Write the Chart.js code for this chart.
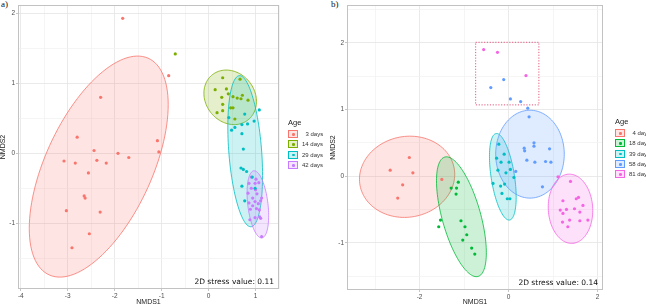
<!DOCTYPE html>
<html lang="en">
<head>
<meta charset="UTF-8">
<title>NMDS ordination by age</title>
<script src="https://cdn.jsdelivr.net/npm/chart.js"></script>
<style>
  body { margin: 0; width: 646px; height: 306px; overflow: hidden; background: #fff; position: relative;
         font-family: "Liberation Sans", Arial, sans-serif; }
  .wrap { position: absolute; top: 0; height: 306px; }
  #wrapA { left: 0; width: 330px; }
  #wrapB { left: 330px; width: 316px; }
  .tag { position: absolute; top: -1px; font-family: "Liberation Serif", serif; font-size: 9px; color: #111; }
  .legend { position: absolute; font-size: 6px; color: #333; white-space: nowrap; }
  .legend .ttl { font-size: 7.5px; color: #222; margin-bottom: 2px; }
  .legend .row { height: 10.3px; display: flex; align-items: center; }
  .legend .key { width: 10px; height: 8px; border: 1px solid; box-sizing: border-box; position: relative; margin-right: 4px; }
  .legend .key i { position: absolute; left: 3px; top: 2px; width: 2.5px; height: 2.5px; border-radius: 50%; }
</style>
</head>
<body>
<div class="tag" style="left:1px">a)</div>
<div class="tag" style="left:331px">b)</div>
<div class="wrap" id="wrapA"><canvas id="chartA" width="330" height="306"></canvas></div>
<div class="wrap" id="wrapB"><canvas id="chartB" width="316" height="306"></canvas></div>
<div class="legend" id="legA" style="left:288px; top:118px"></div>
<div class="legend" id="legB" style="left:615px; top:117px"></div>

<script>
  // ---- panel a) ----
  const labelsA = ['3 days', '14 days', '29 days', '42 days'];
  const colorsA = ['#F8766D', '#7CAE00', '#00BFC4', '#C77CFF'];
  const a3 = [[-1.83, 1.93], [-0.85, 1.11], [-2.30, 0.80], [-2.80, 0.23], [-1.09, 0.18], [-1.06, 0.02],
              [-2.44, 0.04], [-1.93, 0.00], [-1.70, -0.06], [-3.08, -0.11], [-2.84, -0.14], [-2.38, -0.10],
              [-2.18, -0.14], [-2.56, -0.28], [-2.65, -0.61], [-2.63, -0.64], [-3.03, -0.82], [-2.31, -0.84],
              [-2.54, -1.15], [-2.91, -1.35]];
  const a14 = [[-0.71, 1.42], [0.30, 1.08], [0.67, 1.06], [0.14, 0.91], [0.38, 0.92], [0.42, 0.85],
               [0.28, 0.80], [0.52, 0.81], [0.61, 0.79], [0.72, 0.83], [0.69, 0.78], [0.84, 0.76],
               [0.30, 0.70], [0.47, 0.65], [0.52, 0.65], [0.30, 0.61], [0.18, 0.58], [0.56, 0.49]];
  const a29 = [[1.08, 0.62], [0.77, 0.56], [0.43, 0.51], [0.97, 0.46], [0.56, 0.37], [0.49, 0.33],
               [0.71, 0.41], [0.83, 0.42], [0.71, 0.28], [0.74, 0.06], [0.69, -0.21], [0.74, -0.23],
               [0.81, -0.26], [0.71, -0.47], [0.77, -0.68], [0.93, -0.34], [0.99, -0.50]];
  const a42 = [[0.91, -0.34], [1.01, -0.37], [0.86, -0.43], [0.99, -0.43], [1.07, -0.42], [0.91, -0.50],
               [1.00, -0.52], [0.84, -0.57], [1.03, -0.58], [1.13, -0.64], [0.94, -0.64], [0.86, -0.71],
               [0.99, -0.69], [1.06, -0.72], [1.11, -0.68], [0.94, -0.75], [1.02, -0.79], [1.08, -0.81],
               [0.89, -0.80], [1.09, -0.91], [1.11, -0.93], [0.88, -0.95], [0.99, -0.92], [1.13, -1.19]];
  // ellipse: centre x, centre y, half-width, half-height, correlation
  const ellA = [[-2.34, -0.19, 1.48, 1.58, 0.56], [0.46, 0.80, 0.56, 0.39, -0.15],
                [0.78, 0.03, 0.37, 1.08, -0.32], [1.05, -0.73, 0.23, 0.48, -0.34]];
  const xTicksA = [-4, -3.5, -3, -2.5, -2, -1.5, -1, -0.5, 0, 0.5, 1, 1.5];
  const xMajorA = [-4, -3, -2, -1, 0, 1];
  const yTicksA = [-1.5, -1, -0.5, 0, 0.5, 1, 1.5, 2];
  const yMajorA = [-1, 0, 1, 2];
  const rangeA = { xmin: -4.06, xmax: 1.5, ymin: -1.94, ymax: 2.12 };

  // ---- panel b) ----
  const labelsB = ['4 days', '18 days', '39 days', '58 days', '81 days'];
  const colorsB = ['#F8766D', '#00BA38', '#00BFC4', '#619CFF', '#F564E3'];
  const b4 = [[-2.23, 0.28], [-2.66, 0.09], [-2.15, 0.05], [-2.38, -0.13], [-2.49, -0.33], [-1.50, -0.05]];
  const b18 = [[-1.13, -0.09], [-1.29, -0.18], [-1.17, -0.18], [-1.18, -0.27], [-1.53, -0.66], [-1.57, -0.76],
               [-1.07, -0.67], [-0.98, -0.76], [-0.94, -0.88], [-1.03, -0.96], [-0.83, -1.08], [-0.76, -1.17]];
  const b39 = [[-0.22, 0.48], [-0.10, 0.33], [-0.27, 0.27], [-0.17, 0.21], [0.01, 0.21], [-0.24, 0.09],
               [-0.06, 0.05], [0.04, 0.10], [0.12, -0.02], [-0.35, -0.11], [-0.18, -0.15], [-0.09, -0.12],
               [-0.15, -0.26], [-0.03, -0.34], [0.03, -0.34]];
  const b58 = [[-0.11, 1.45], [-0.40, 1.33], [0.04, 1.16], [0.27, 1.12], [0.43, 1.02], [0.46, 0.89],
               [0.35, 0.42], [0.57, 0.50], [0.57, 0.45], [0.36, 0.38], [0.92, 0.41], [0.41, 0.24],
               [0.59, 0.21], [0.83, 0.22], [0.95, 0.21], [0.16, 0.07], [0.76, -0.16]];
  const b81 = [[-0.56, 1.90], [-0.25, 1.86], [0.39, 1.51], [1.39, -0.08], [1.22, -0.37], [1.52, -0.34],
               [1.57, -0.32], [1.67, -0.44], [1.16, -0.51], [1.30, -0.50], [1.48, -0.49], [1.22, -0.56],
               [1.60, -0.54], [1.21, -0.69], [1.37, -0.66], [1.33, -0.76], [1.60, -0.67], [1.78, -0.66],
               [1.11, -0.01]];
  const ellB = [[-2.28, -0.01, 1.07, 0.61, 0.06], [-1.06, -0.61, 0.56, 0.90, -0.6],
                [-0.13, -0.01, 0.30, 0.65, -0.47], [0.48, 0.33, 0.77, 0.66, 0.0],
                [1.39, -0.49, 0.50, 0.52, -0.05]];
  const boxB = [-0.74, 1.07, 0.68, 2.01]; // outlier box: x1, y1, x2, y2
  const xTicksB = [-3, -2, -1, 0, 1, 2];
  const xMajorB = [-2, 0, 2];
  const yTicksB = [-1.5, -1, -0.5, 0, 0.5, 1, 1.5, 2, 2.5];
  const yMajorB = [-1, 0, 1, 2];
  const rangeB = { xmin: -3.63, xmax: 2.12, ymin: -1.71, ymax: 2.57 };

  function rgba(hex, a) {
    const n = parseInt(hex.slice(1), 16);
    return `rgba(${n >> 16},${(n >> 8) & 255},${n & 255},${a})`;
  }

  const extras = {
    id: 'extras',
    beforeDatasetsDraw(chart, args, opts) {
      const { ctx, chartArea: a, scales: { x, y } } = chart;
      ctx.save();
      ctx.beginPath();
      ctx.rect(a.left, a.top, a.width, a.height);
      ctx.clip();
      opts.ellipses.forEach((e, k) => {
        const s = Math.sqrt(1 - e[4] * e[4]);
        ctx.beginPath();
        for (let i = 0; i <= 120; i++) {
          const t = i / 120 * Math.PI * 2;
          const px = x.getPixelForValue(e[0] + e[2] * Math.cos(t));
          const py = y.getPixelForValue(e[1] + e[3] * (e[4] * Math.cos(t) + s * Math.sin(t)));
          if (i) ctx.lineTo(px, py); else ctx.moveTo(px, py);
        }
        ctx.closePath();
        ctx.fillStyle = rgba(opts.colors[k], 0.2);
        ctx.fill();
        ctx.strokeStyle = opts.colors[k];
        ctx.lineWidth = 0.8;
        ctx.stroke();
      });
      if (opts.box) {
        const b = opts.box;
        const x1 = x.getPixelForValue(b[0]), x2 = x.getPixelForValue(b[2]);
        const y1 = y.getPixelForValue(b[1]), y2 = y.getPixelForValue(b[3]);
        ctx.setLineDash([1.2, 1.6]);
        ctx.strokeStyle = '#e4567c';
        ctx.lineWidth = 1;
        ctx.strokeRect(x1, y2, x2 - x1, y1 - y2);
      }
      ctx.restore();
    },
    afterDraw(chart, args, opts) {
      const { ctx, chartArea: a } = chart;
      ctx.save();
      ctx.strokeStyle = '#c2c2c2';
      ctx.lineWidth = 1;
      ctx.strokeRect(a.left + 0.5, a.top + 0.5, a.width - 1, a.height - 1);
      ctx.font = '7.5px "DejaVu Sans"';
      ctx.fillStyle = '#111';
      ctx.textAlign = 'right';
      ctx.textBaseline = 'alphabetic';
      ctx.fillText(opts.stress, a.right - 5, a.bottom - 5);
      ctx.restore();
    }
  };

  function makePanel(id, groups, labels, colors, ellipses, xTicks, xMajor, yTicks, yMajor, r,
                     yWidth, xHeight, padRight, stress, box) {
    const tickFont = { family: '"Liberation Sans", Arial, sans-serif', size: 6.5 };
    const axis = (min, max, ticks, major, title, fit) => ({
      type: 'linear', min: min, max: max,
      afterBuildTicks: s => { s.ticks = ticks.map(v => ({ value: v })); },
      afterFit: fit,
      ticks: { font: tickFont, color: '#4d4d4d', padding: 1, autoSkip: false, maxRotation: 0,
               callback: v => major.includes(v) ? String(v) : '' },
      grid: { color: c => major.includes(c.tick.value) ? '#e4e4e4' : '#f2f2f2',
              tickColor: c => major.includes(c.tick.value) ? '#b8b8b8' : 'rgba(0,0,0,0)',
              tickLength: 2, lineWidth: 0.8 },
      border: { display: false },
      title: { display: true, text: title, color: '#1a1a1a', padding: 0,
               font: { family: '"Liberation Sans", Arial, sans-serif', size: 7, lineHeight: 1 } }
    });
    return new Chart(document.getElementById(id), {
      type: 'scatter',
      data: {
        datasets: groups.map((g, k) => ({
          label: labels[k],
          data: g.map(p => ({ x: p[0], y: p[1] })),
          backgroundColor: colors[k],
          borderWidth: 0,
          pointRadius: 1.6
        }))
      },
      options: {
        responsive: false,
        animation: false,
        layout: { padding: { top: 5, right: padRight, left: 0, bottom: 0 } },
        plugins: {
          legend: { display: false },
          tooltip: { enabled: false },
          extras: { ellipses: ellipses, colors: colors, stress: stress, box: box }
        },
        scales: {
          x: axis(r.xmin, r.xmax, xTicks, xMajor, 'NMDS1', s => { s.height = xHeight; }),
          y: axis(r.ymin, r.ymax, yTicks, yMajor, 'NMDS2', s => { s.width = yWidth; })
        }
      },
      plugins: [extras]
    });
  }

  function makeLegend(id, labels, colors) {
    const el = document.getElementById(id);
    let html = '<div class="ttl">Age</div>';
    labels.forEach((l, k) => {
      const pad = l.length < 7 ? 'padding-left:3.5px' : '';
      html += `<div class="row"><span class="key" style="border-color:${colors[k]};background:${rgba(colors[k], 0.2)}">` +
              `<i style="background:${colors[k]}"></i></span><span style="${pad}">${l}</span></div>`;
    });
    el.innerHTML = html;
  }

  makePanel('chartA', [a3, a14, a29, a42], labelsA, colorsA, ellA, xTicksA, xMajorA, yTicksA, yMajorA, rangeA,
            18, 17, 51, '2D stress value: 0.11', null);
  makePanel('chartB', [b4, b18, b39, b58, b81], labelsB, colorsB, ellB, xTicksB, xMajorB, yTicksB, yMajorB, rangeB,
            17, 16, 43, '2D stress value: 0.14', boxB);
  makeLegend('legA', labelsA, colorsA);
  makeLegend('legB', labelsB, colorsB);
</script>
</body>
</html>
